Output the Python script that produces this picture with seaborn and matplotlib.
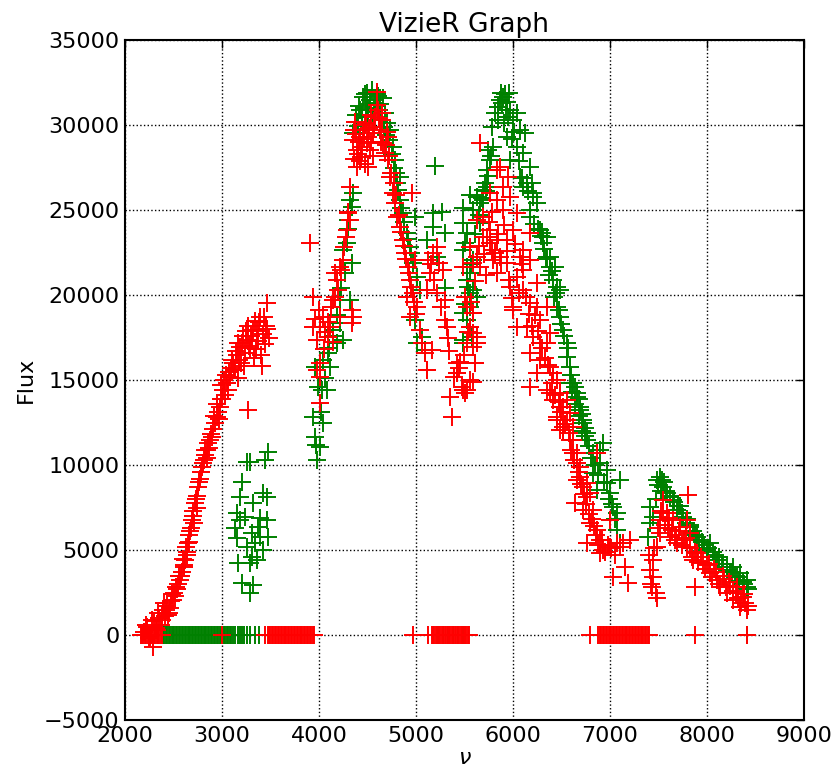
import numpy as np
import pandas as pd
import matplotlib
matplotlib.use("Agg")
import matplotlib.pyplot as plt
import seaborn as sns

# ---------------- data ----------------
# red series: rising branch 2200-3500
red_rise_x = [2200, 2230, 2260, 2289, 2300, 2330, 2350, 2370, 2392, 2410, 2430, 2450, 2470, 2495,
              2510, 2530, 2550, 2567, 2590, 2605, 2619, 2635, 2649, 2665, 2680, 2690, 2705, 2722,
              2738, 2753, 2770, 2780, 2794, 2810, 2830, 2845, 2860, 2880, 2897, 2910, 2928, 2945,
              2960, 2979, 2995, 3010, 3030, 3050, 3070, 3082, 3100, 3113, 3130, 3150, 3170, 3186,
              3200, 3220, 3240, 3258, 3270, 3290, 3300, 3320, 3340, 3350, 3370, 3392, 3400, 3420,
              3440, 3450, 3464, 3480, 3268, 3060, 3160, 3230, 2820, 2870, 2950, 2990, 3040, 3120,
              3280, 3330, 3430, 3360, 3410, 3210, 2700, 2660, 2610, 2580, 2520, 2440,
              2215, 2245, 2275, 2315, 2340, 2380, 2400, 2425, 2460, 2480, 2540, 2560, 2600, 2625,
              2640, 2670, 2710, 2730, 2745, 2760, 2800, 2850, 2890, 2920, 2970, 3000, 3020, 3090,
              3140, 3180, 3250, 3310, 3380, 3460]
red_rise_y = [200, 470, -100, -700, 800, 300, 1000, 600, 1470, 1100, 1700, 1300, 2000, 2060,
              2500, 2800, 3000, 3240, 3700, 4100, 4410, 4900, 5410, 5900, 6300, 6760, 7300, 7760,
              8200, 8700, 9200, 9600, 9880, 10300, 10600, 10880, 11300, 11500, 11650, 12100, 12470, 12800,
              13100, 13410, 13900, 14410, 14100, 14800, 15500, 15180, 16200, 16000, 15600, 16500, 17200, 16940,
              16000, 17600, 16600, 17350, 18200, 16900, 17600, 17940, 18500, 16800, 17300, 18700, 16500, 17700,
              17100, 18200, 19530, 17500, 13240, 14400, 15100, 15800, 10900, 11000, 13600, 14700, 15300, 15600,
              17000, 16300, 18700, 17900, 15800, 17200, 7000, 5500, 4000, 3500, 2300, 1200,
              600, -200, 900, 400, 1300, 900, 1900, 1500, 1600, 2400, 2700, 3500, 4500, 5200,
              4700, 6100, 6600, 8000, 7500, 9000, 10100, 10400, 11800, 12900, 12700, 13900, 15000, 15700,
              16700, 16200, 17900, 17300, 18400, 18000]

# red series: first peak 3900-5200
red_p1_x = [3938, 4144, 4041, 4113, 4010, 4093, 3979, 4144, 4340, 4340, 4216, 4186, 4165, 4247,
            4320, 4299, 4320, 4289, 4010, 3979, 4010, 4010, 4216, 3907, 3938, 4351,
            4598, 4608, 4351, 4423, 4495, 4557, 4629, 4660, 4392, 4526, 4392, 4505, 4680, 4711,
            4454, 4649, 4711, 4732, 4763, 4784, 4804, 4835, 4866, 4887, 4918, 4938, 4907, 4969,
            5010, 4938, 5041, 5062, 5093, 5113, 4959, 4990, 5165, 4370, 4470, 4540, 4580, 4430,
            4360, 4380, 4400, 4410, 4440, 4460, 4480, 4520, 4540, 4570, 4600, 4620, 4640, 4690,
            4720, 4360, 4420, 4470, 4510, 4560, 4650, 4700, 4740, 4770, 4790, 4820, 4850, 4880,
            4900, 4930, 4950, 4980, 5000, 4060, 4090, 4120, 4160, 4200, 4230, 4260, 4280, 4300,
            4050, 4000, 3960]
red_p1_y = [19880, 19700, 18700, 18120, 18120, 17530, 17350, 17240, 18350, 19120, 18700, 20880, 21290, 22060,
            24410, 24820, 26350, 23820, 16000, 15590, 13650, 15180, 21650, 23060, 18120, 18700,
            31940, 30880, 29120, 29300, 28940, 29530, 29710, 28940, 28530, 28530, 27530, 27530, 28350, 29300,
            29710, 30290, 27940, 26940, 26000, 25410, 24590, 24000, 23240, 22470, 21650, 20880, 19880, 20120,
            19290, 18700, 17940, 17180, 16590, 15590, 26000, 22060, 16760, 30200, 30000, 29000, 30500, 28100,
            28000, 29500, 28300, 29000, 28700, 29200, 30100, 29800, 30600, 29900, 31200, 30400, 29000, 28800,
            28200, 29700, 27900, 27700, 29300, 28200, 30700, 29600, 27200, 26600, 25900, 24700, 23700, 22900,
            22100, 21300, 20500, 19600, 18900, 17800, 18400, 19300, 19900, 20300, 21500, 22800, 23400, 24900,
            16800, 19100, 18600]

# red series: middle dip and second peak 5100-6700
red_p2_x = [5124, 5175, 5216, 5144, 5113, 5278, 5299, 5216, 5299, 5320, 5423, 5454, 5423, 5608,
            5526, 5505, 5588, 5351, 5371, 5113, 5526, 5588, 5557, 5526, 5629, 5588, 5505,
            5660, 5866, 5948, 5835, 5897, 5763, 5835, 5969, 6041, 5897, 5691, 5629, 5763, 6000,
            5691, 5835, 6175, 6103, 5784, 5938, 5794, 5629, 6175, 5660,
            5732, 5763, 5557, 5866, 5938, 6072, 6103, 6175, 6041, 5835, 5588, 5485, 5969, 6103,
            6247, 6000, 6175, 6247, 6278, 6350, 6041, 6144, 6206, 6278, 6350, 6381, 6175, 6278,
            6381, 6412, 6247, 6454, 6175, 6350, 6485, 6412, 6515, 6454, 6557, 6485, 6619,
            5588, 5557, 5629, 5588, 5454, 5423, 5608, 5557, 5485, 6000, 5990,
            5150, 5190, 5240, 5260, 5330, 5340, 5390, 5440, 5470, 5500, 5540, 5570, 5610, 5650,
            5700, 5720, 5750, 5780, 5810, 5850, 5880, 5910, 5940, 5960, 6020, 6060, 6090, 6130,
            6160, 6200, 6230, 6260, 6300, 6330, 6360, 6400, 6430, 6470, 6500, 6540, 6580]
red_p2_y = [22060, 22470, 22820, 21290, 20290, 21470, 19700, 20120, 18530, 18120, 16000, 16060, 15410, 16000,
            14410, 14240, 14880, 14000, 12820, 15590, 19290, 18940, 18120, 17180, 17180, 17760, 19880,
            28940, 27530, 26940, 27350, 26350, 26000, 25590, 25760, 24820, 25000, 24590, 24410, 23820, 23820,
            23410, 23240, 23650, 22650, 22650, 21880, 22060, 22240, 22060, 21650,
            23410, 23060, 22820, 22240, 23240, 22240, 21470, 22060, 21060, 21290, 21880, 21650, 20470, 20290,
            20700, 19290, 19530, 19290, 18530, 19290, 18120, 18120, 17530, 17180, 17180, 17760, 16590, 16180,
            15760, 15410, 15410, 15000, 14590, 14410, 14240, 13820, 13410, 12820, 12650, 12060, 12240,
            18940, 18120, 17530, 16940, 16000, 15410, 16000, 15000, 14410, 19120, 19820,
            21800, 20900, 21900, 19300, 17500, 16700, 15200, 15700, 14600, 16500, 17800, 19600, 20800, 22900,
            22400, 21200, 24300, 24900, 22500, 23600, 21900, 24100, 22600, 20900, 23000, 20100, 21800, 19900,
            18900, 18200, 18800, 17900, 16900, 16300, 15900, 14800, 14100, 13700, 13100, 12400, 11900]

# red series: descent 6400-7250 and tail 7400-8450
red_tail_x = [6412, 6381, 6485, 6454, 6515, 6588, 6619, 6660, 6691, 6763, 6794, 6866,
              6557, 6588, 6515, 6619, 6660, 6691, 6660, 6722, 6763, 6722, 6825, 6794, 6866, 6763,
              6897, 6928, 7000, 7072, 6897, 7134, 7206, 7031, 7155, 7186, 7000, 6639,
              7546, 7588, 7515, 7649, 7722, 7794, 7825, 7619, 7515, 7485, 7691, 7794, 7897, 7856,
              7959, 8031, 8103, 8134, 8206, 8268, 8340, 8412, 8371, 8309, 7412, 7443, 7433, 7485,
              7443, 7804, 7876, 7546, 7600, 7680, 7760, 7940, 8000, 8070, 8180, 8240, 8300, 8390,
              6600, 6630, 6680, 6700, 6730, 6750, 6780, 6810, 6840, 6860, 6880, 6920, 6950, 6980,
              7010, 7050, 7100, 7400, 7420, 7450, 7470, 7500, 7530, 7570, 7610, 7640, 7670, 7710,
              7740, 7780, 7820, 7850, 7880, 7910, 7980, 8020, 8050, 8090, 8120, 8160, 8200, 8230,
              8270, 8320, 8350, 8380, 8420]
red_tail_y = [15410, 14240, 13410, 12650, 12240, 11470, 10700, 10120, 9290, 8940, 8350, 10700,
              13820, 13060, 12060, 11470, 10700, 9880, 9120, 8700, 8120, 7350, 7350, 6590, 6180, 5410,
              5590, 5000, 5180, 5410, 4820, 5410, 5590, 3410, 4000, 3060, 6760, 7760,
              7940, 7180, 6760, 6760, 6350, 6760, 6000, 5760, 6000, 5180, 5410, 5180, 4820, 4410,
              4240, 3650, 3240, 2820, 2470, 2060, 1650, 1470, 2240, 2820, 3820, 3410, 2820, 2180,
              4410, 8240, 2820, 7180, 6300, 5900, 5600, 4600, 4100, 3900, 3300, 2900, 2500, 1900,
              10900, 10300, 9600, 8900, 8300, 7700, 7100, 6800, 6400, 5900, 5300, 5600, 4900, 5300,
              5100, 4700, 5200, 4700, 3000, 5100, 2500, 6300, 7300, 6500, 6900, 6200, 5600, 6100,
              5300, 5700, 5100, 4600, 4900, 4300, 3900, 4200, 3400, 3700, 3000, 3500, 2800, 3100,
              2600, 2200, 1900, 2400, 1700]

# red series: points lying on zero flux
red_zero_x = [2160, 2175, 2190, 2205, 2220, 2235, 2250, 2265, 2280, 2295, 2310, 2325, 2340, 2355,
              2370, 2385, 3000, 3440,
              3470, 3485, 3500, 3515, 3530, 3545, 3560, 3575, 3590, 3605, 3620, 3635, 3650, 3665,
              3680, 3695, 3710, 3725, 3740, 3755, 3770, 3785, 3800, 3815, 3830, 3845, 3860, 3875,
              3890, 3905, 3920, 3935, 3950, 4970, 5125,
              5160, 5175, 5190, 5205, 5220, 5235, 5250, 5265, 5280, 5295, 5310, 5325, 5340, 5355,
              5370, 5385, 5400, 5415, 5430, 5445, 5460, 5475, 5490, 5505, 5520, 5535, 5550, 6790,
              6880, 6895, 6910, 6925, 6940, 6955, 6970, 6985, 7000, 7015, 7030, 7045, 7060, 7075,
              7090, 7105, 7120, 7135, 7150, 7165, 7180, 7195, 7210, 7225, 7240, 7255, 7270, 7285,
              7300, 7315, 7330, 7345, 7360, 7375, 7390, 7405, 7880, 8410]

# green series: cluster 3100-3500
green_c1_x = [3289, 3474, 3443, 3258, 3206, 3186, 3464, 3423, 3320, 3155, 3237, 3392, 3464, 3134,
              3309, 3371, 3474, 3155, 3340, 3258, 3423, 3309, 3289, 3165, 3361, 3206, 3320, 3289,
              3392, 3186]
green_c1_y = [10180, 10760, 10290, 10180, 9000, 8120, 8120, 8350, 7760, 7180, 6940, 6880, 6760, 6290,
              6000, 6350, 5760, 5700, 5410, 5180, 5000, 4590, 4240, 4240, 4410, 3060, 2940, 2470,
              5760, 6760]

# green series: first peak 3900-5100
green_p1_x = [3979, 3959, 4010, 4041, 3938, 4031, 3990, 4082, 3959, 4113, 4041, 4093, 4186, 4144,
              4247, 4216, 4320, 4216, 4340, 4289, 4247, 4340, 4320, 4299, 4351,
              4546, 4454, 4598, 4526, 4629, 4423, 4680, 4495, 4701, 4732, 4402, 4351, 4763, 4784,
              4835, 4804, 4835, 4866, 4907, 4938, 4990, 4969, 5010, 5041, 4990, 5062, 5093, 5010,
              4580, 4620, 4500, 4560, 4660, 4480, 4380,
              4390, 4410, 4440, 4470, 4510, 4530, 4570, 4610, 4640, 4670, 4690, 4720, 4750, 4770,
              4790, 4810, 4850, 4880, 4920, 4950, 4190, 4230, 4270, 4300, 4140, 4100, 4060, 4020,
              3970]
green_p1_y = [10290, 11650, 11060, 12470, 12820, 14410, 14590, 14410, 15760, 15760, 16180, 16590, 17180, 17940,
              17350, 18350, 19700, 19700, 21880, 23060, 22650, 25180, 25590, 24410, 26000,
              32060, 31650, 31820, 31240, 31240, 30880, 30700, 30470, 30120, 29710, 29940, 29530, 28710, 27940,
              26940, 26590, 25590, 24820, 23650, 22820, 24590, 21880, 21060, 20290, 18530, 17530, 16760, 17180,
              31500, 30900, 31900, 30300, 31600, 31000, 30600,
              30200, 31100, 30600, 31800, 30900, 31500, 31300, 31700, 30300, 29900, 29400, 29100, 28300, 27500,
              27200, 26200, 25100, 24300, 23300, 22500, 18800, 20400, 21300, 23900, 17600, 16900, 15100, 13100,
              11200]

# green series: middle and second peak 5100-6800
green_p2_x = [5196, 5175, 5268, 5175, 5299, 5113, 5216, 5299, 5485, 5557, 5485, 5505, 5526, 5526,
              5485, 5485, 5557,
              5897, 5887, 5938, 5845, 5969, 5814, 6041, 6000, 5784, 6072, 6124, 5938, 5794, 6041,
              6103, 5742, 5763, 5969, 6175, 6072, 5732, 5711, 6196, 6103, 6206, 5691, 6247, 6175,
              6299, 6350, 6309, 6381, 6433, 5629, 5660, 5588,
              6278, 6309, 6350, 6381, 6412, 6454, 6485, 6454, 6485, 6515, 6557, 6557, 6588, 6619,
              6660, 6691, 6722, 6763, 6206, 6144, 5526, 5485, 5557, 5526, 5588, 5629, 5557, 5526,
              5577, 5485, 5588, 5660, 5732, 5691, 5920, 5950, 5870,
              5850, 5880, 5910, 5930, 5960, 5990, 6010, 6060, 6090, 6150, 6180, 6220, 6260, 6290,
              6320, 6340, 6370, 6400, 6420, 6440, 6470, 6500, 6530, 6570, 6600, 6640, 6680, 6710,
              6740, 5770, 5740, 5720, 5680, 5650, 5610, 5570, 5540, 5510]
green_p2_y = [27590, 24820, 24880, 24000, 23650, 23240, 22240, 20410, 25120, 25880, 24240, 23060, 21650, 20880,
              18940, 17350, 20120,
              31650, 31290, 31350, 31060, 30880, 30700, 30700, 30290, 29880, 29710, 29530, 29300, 28710, 28710,
              28350, 28530, 27940, 27940, 27530, 26940, 27350, 26590, 26590, 26350, 25760, 26180, 25410, 25000,
              23650, 23410, 23060, 22240, 21650, 25760, 25410, 25000,
              23820, 23410, 22240, 21650, 20880, 20470, 20290, 19290, 18700, 17940, 17180, 16350, 15760, 14820,
              14240, 13410, 12650, 11880, 26000, 26590, 23650, 22650, 21290, 20880, 20290, 19880, 19290, 18530,
              17530, 17180, 22060, 24240, 26350, 25590, 31800, 30500, 31500,
              30300, 31900, 30100, 30900, 31900, 29200, 29600, 27900, 26900, 26100, 24600, 24200, 23900, 23500,
              22700, 22100, 21200, 21400, 19900, 20100, 19100, 18300, 17600, 16900, 15300, 14600, 13900, 13000,
              12200, 28200, 27000, 26100, 25700, 24700, 23600, 21800, 20500, 19500]

# green series: descent 6550-7150 and tail 7380-8450
green_tail_x = [6588, 6660, 6691, 6722, 6763, 6825, 6897, 6928, 6897, 6969, 7103, 6969, 7000, 7031,
                7072, 7072, 7103, 6825, 6866,
                7515, 7546, 7588, 7649, 7691, 7753, 7825, 7897, 8000, 8103, 8206, 8309, 8412, 8412,
                7412, 7412, 7392, 7443, 7485, 8031, 8268, 8340, 7560, 7620, 7720, 7790, 7860, 7950,
                8060, 8150, 8240, 8370, 7530, 7470,
                6610, 6640, 6680, 6710, 6740, 6780, 6800, 6850, 6880, 6940, 6990, 7020, 7050, 7500,
                7540, 7580, 7620, 7660, 7700, 7740, 7780, 7820, 7880, 7920, 7970, 8010, 8080, 8120,
                8170, 8210, 8260, 8290, 8330, 8380, 8420]
green_tail_y = [14820, 14000, 13240, 12470, 11470, 10700, 10880, 11290, 10120, 9700, 9120, 8940, 8350, 7530,
                7180, 6180, 5410, 9530, 8530,
                9290, 8700, 8350, 7940, 7350, 6940, 6350, 5760, 5000, 4410, 3820, 3410, 2820, 3240,
                7530, 6590, 5760, 6940, 9120, 5410, 4000, 3650, 9000, 8100, 7600, 6800, 6100, 5500,
                4900, 4200, 3700, 3100, 8500, 8000,
                14300, 13600, 12900, 12000, 11700, 11100, 10400, 10000, 9400, 9000, 8000, 7700, 6800, 8800,
                9100, 8500, 8200, 7800, 7600, 7200, 6600, 6500, 5900, 5600, 5300, 5100, 4700, 4600,
                4200, 4000, 3700, 3500, 3200, 3000, 2700]

# green series: points lying on zero flux
green_zero_x = [2390, 2405, 2420, 2435, 2450, 2465, 2480, 2495, 2510, 2525, 2540, 2555, 2570, 2585,
                2600, 2615, 2630, 2645, 2660, 2675, 2690, 2705, 2720, 2735, 2750, 2765, 2780, 2795,
                2810, 2825, 2840, 2855, 2870, 2885, 2900, 2915, 2930, 2945, 2960, 2975, 2990, 3005,
                3020, 3035, 3050, 3065, 3080, 3095, 3110, 3135, 3160, 3185, 3205, 3230, 3260, 3290,
                3340, 3380, 5230, 5280, 5330, 5380, 5430, 5480, 8410]

# ---------------- build tables ----------------
red = pd.DataFrame({
    "nu": red_rise_x + red_p1_x + red_p2_x + red_tail_x + red_zero_x,
    "flux": red_rise_y + red_p1_y + red_p2_y + red_tail_y + [0.0] * len(red_zero_x),
})
green = pd.DataFrame({
    "nu": green_c1_x + green_p1_x + green_p2_x + green_tail_x + green_zero_x,
    "flux": green_c1_y + green_p1_y + green_p2_y + green_tail_y + [0.0] * len(green_zero_x),
})

# ---------------- style ----------------
sns.set_theme(style="white")
plt.rcParams["font.family"] = ["DejaVu Sans"]
plt.rcParams["axes.unicode_minus"] = True
plt.rcParams["text.color"] = "black"
plt.rcParams["axes.labelcolor"] = "black"
plt.rcParams["xtick.color"] = "black"
plt.rcParams["ytick.color"] = "black"

fig = plt.figure(figsize=(8.36, 7.70), dpi=100)
ax = fig.add_axes([0.1495, 0.0649, 0.8122, 0.8831])

sns.scatterplot(data=green, x="nu", y="flux", marker="+", color="green",
                s=150, linewidth=1.4, ax=ax, legend=False, zorder=3)
sns.scatterplot(data=red, x="nu", y="flux", marker="+", color="red",
                s=150, linewidth=1.4, ax=ax, legend=False, zorder=4)

ax.set_xlim(2000, 9000)
ax.set_ylim(-5000, 35000)
ax.set_xticks(range(2000, 9001, 1000))
ax.set_yticks(range(-5000, 35001, 5000))

ax.grid(True, color="black", linestyle=":", linewidth=1.0)
ax.set_axisbelow(True)
for sp in ax.spines.values():
    sp.set_visible(True)
    sp.set_color("black")
    sp.set_linewidth(1.5)

ax.tick_params(direction="in", length=6, width=1, top=True, right=True,
               labelsize=16, pad=4, colors="black")

ax.set_title("VizieR Graph", fontsize=19, pad=6, color="black")
ax.set_xlabel(r"$\nu$", fontsize=16, labelpad=2, color="black")
ax.set_ylabel("Flux", fontsize=16, labelpad=6, color="black")

fig.savefig("out.png", dpi=100, facecolor="white")
